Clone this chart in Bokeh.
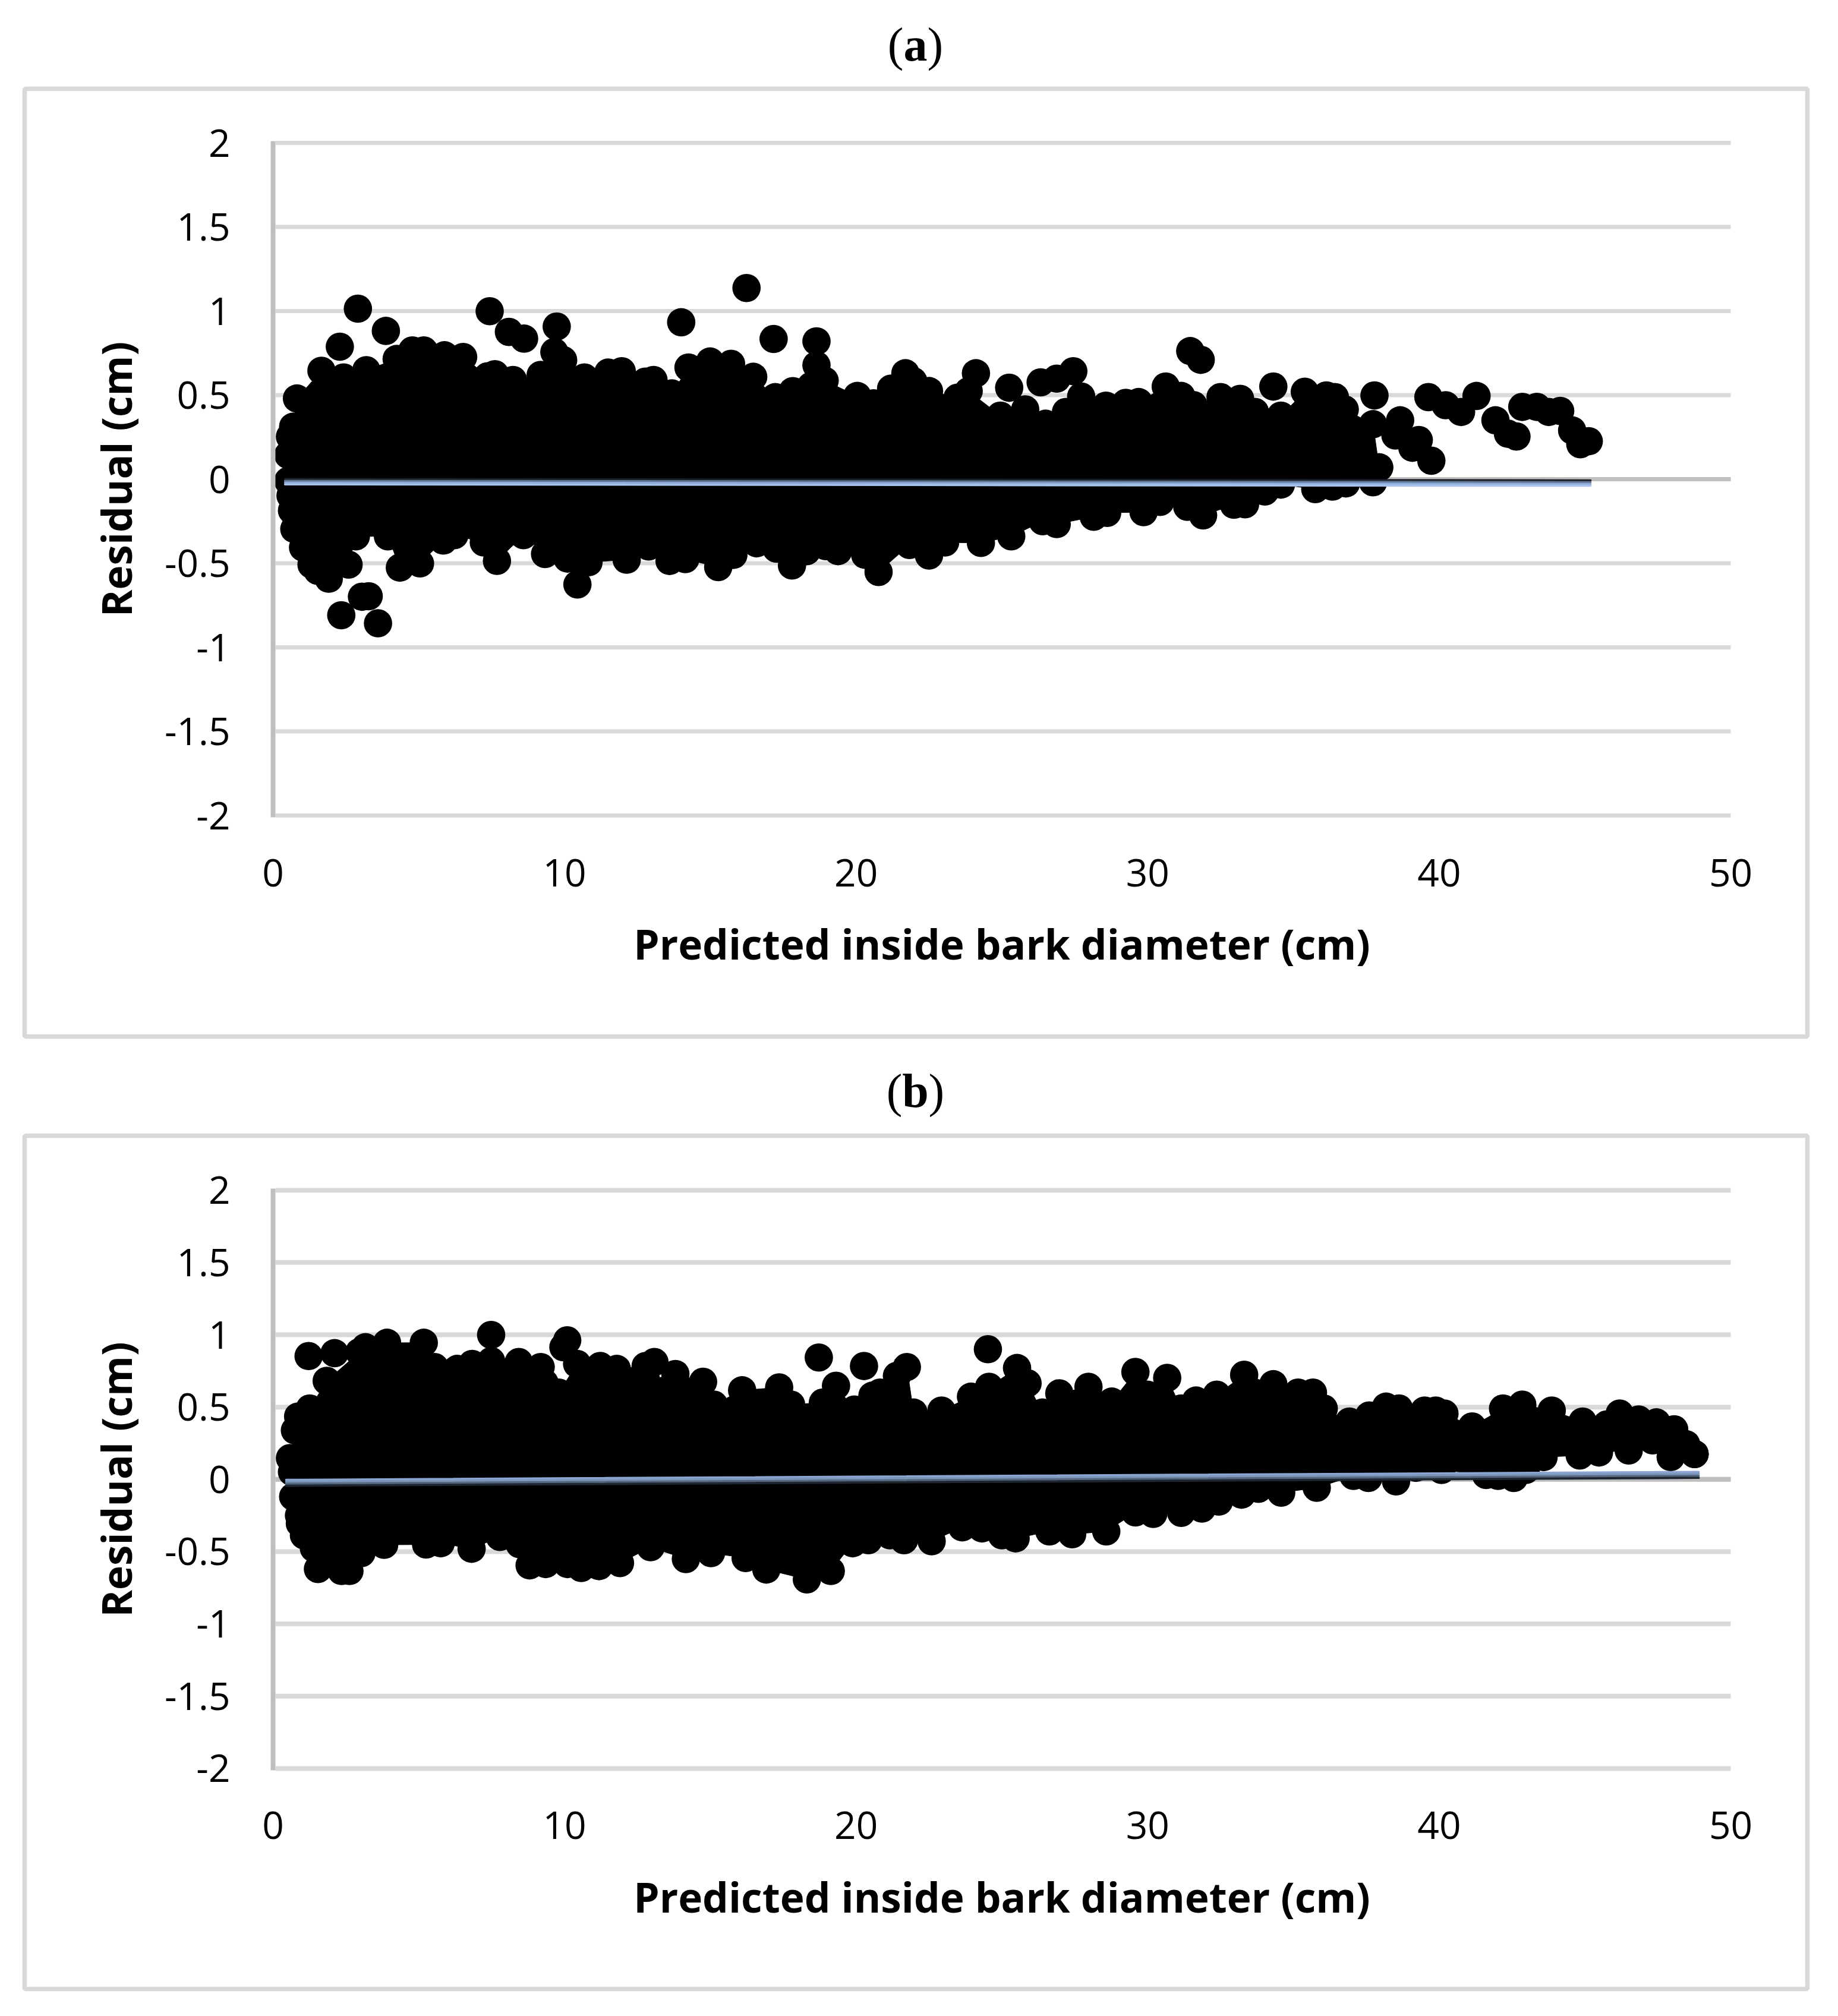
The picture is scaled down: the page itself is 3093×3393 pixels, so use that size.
from bokeh.plotting import figure
from bokeh.layouts import column
from bokeh.models import FixedTicker, LinearAxis, Range1d
from bokeh.core.properties import value
from bokeh.embed import file_html
from bokeh.resources import INLINE

# ---- shared axis content ----
x_ticks = [0, 10, 20, 30, 40, 50]
x_labels = ["0", "10", "20", "30", "40", "50"]
y_ticks = [-2, -1.5, -1, -0.5, 0, 0.5, 1, 1.5, 2]
y_labels = ["-2", "-1.5", "-1", "-0.5", "0", "0.5", "1", "1.5", "2"]
x_title = "Predicted inside bark diameter (cm)"
y_title = "Residual (cm)"

# ---- panel (a): points on the upper and lower edge of the saturated cloud, and isolated points ----
a_hi_x = [0.52, 0.58, 0.69, 0.82, 1.66, 2.42, 3.2, 4.24, 4.78, 5.17, 5.88, 6.52, 7.36, 7.61, 8.23, 9.18, 9.65, 9.95,
          10.68, 11.5, 11.96, 12.77, 13.05, 13.68, 14.25, 14.99, 15.71, 16.47, 17.23, 17.83, 18.45, 18.64, 18.92,
          20.04, 20.6, 21.2, 21.69, 21.96, 22.5, 23.48, 23.86, 24.95, 25.8, 26.5, 27.2, 27.72, 28.57, 29.25, 29.69,
          30.62, 31.15, 31.57, 32.5, 33.17, 33.68, 34.57, 35.39, 36.13, 36.42, 36.76, 37.73, 37.94]
a_hi_y = [0.144, 0.253, 0.312, 0.48, 0.645, 0.605, 0.648, 0.715, 0.766, 0.766, 0.737, 0.727, 0.612, 0.624, 0.59, 0.62,
          0.756, 0.708, 0.605, 0.634, 0.642, 0.58, 0.59, 0.51, 0.664, 0.70, 0.686, 0.609, 0.488, 0.524, 0.554, 0.678,
          0.586, 0.495, 0.451, 0.539, 0.63, 0.583, 0.524, 0.485, 0.524, 0.378, 0.415, 0.33, 0.40, 0.492, 0.437, 0.454,
          0.459, 0.551, 0.495, 0.441, 0.488, 0.478, 0.40, 0.378, 0.52, 0.498, 0.488, 0.415, 0.327, 0.07]
a_lo_x = [0.52, 0.6, 0.65, 0.73, 1.03, 1.32, 1.53, 1.91, 2.59, 2.84, 3.94, 4.35, 5.04, 5.84, 6.22, 7.23, 7.68, 8.59,
          9.33, 10.1, 10.44, 10.82, 12.13, 12.88, 13.6, 14.14, 15.27, 15.79, 16.59, 17.27, 17.8, 18.3, 18.96, 19.38,
          20.31, 20.77, 21.83, 22.5, 23.05, 24.28, 25.32, 26.4, 26.88, 28.15, 28.61, 29.86, 30.43, 31.36, 31.9,
          32.96, 33.34, 34.02, 34.57, 35.75, 36.34, 36.8, 37.73, 37.94]
a_lo_y = [-0.01, -0.098, -0.186, -0.296, -0.406, -0.508, -0.545, -0.592, -0.508, -0.34, -0.34, -0.526, -0.501, -0.365,
          -0.333, -0.376, -0.486, -0.333, -0.445, -0.472, -0.626, -0.494, -0.479, -0.4, -0.486, -0.475, -0.523, -0.45,
          -0.381, -0.413, -0.513, -0.428, -0.398, -0.428, -0.45, -0.552, -0.391, -0.454, -0.376, -0.379, -0.34, -0.25,
          -0.267, -0.223, -0.2, -0.196, -0.135, -0.164, -0.215, -0.152, -0.149, -0.073, -0.032, -0.059, -0.044, -0.025,
          -0.018, 0.07]
a_pt_x = [2.91, 3.87, 2.29, 7.43, 8.09, 8.61, 9.73, 16.24, 14.0, 17.17, 18.64, 31.46, 31.82, 2.34, 3.05, 3.28, 3.6,
          24.11, 25.25, 26.33, 26.88, 27.45, 34.31, 37.78, 38.5, 38.66, 39.3, 39.08, 39.73, 39.63, 40.22, 40.75,
          41.28, 41.93, 42.36, 42.65, 42.85, 43.35, 43.76, 44.15, 44.56, 44.84, 45.13]
a_pt_y = [1.014, 0.882, 0.788, 0.999, 0.876, 0.836, 0.908, 1.137, 0.933, 0.834, 0.82, 0.762, 0.71, -0.809, -0.699,
          -0.696, -0.857, 0.63, 0.544, 0.576, 0.598, 0.642, 0.551, 0.498, 0.26, 0.35, 0.233, 0.187, 0.11, 0.488, 0.44,
          0.40, 0.495, 0.35, 0.27, 0.254, 0.43, 0.43, 0.40, 0.406, 0.29, 0.208, 0.226]
a_fit_x = [0.41, 45.19]
a_fit_y = [-0.015, -0.023]

# ---- panel (b) ----
b_hi_x = [0.58, 0.75, 0.86, 1.26, 1.84, 2.96, 3.17, 3.91, 5.17, 5.54, 6.32, 6.83, 7.48, 8.43, 9.18, 9.31, 9.8, 10.43,
          11.22, 11.79, 12.78, 13.08, 13.42, 13.8, 14.75, 15.12, 16.09, 17.36, 17.77, 18.86, 19.31, 19.94, 20.56,
          20.82, 21.4, 21.74, 21.97, 22.93, 23.94, 24.56, 25.52, 25.88, 26.39, 26.97, 27.97, 28.77, 29.58, 29.99,
          30.67, 31.15, 31.66, 32.37, 33.31, 34.31, 35.16, 35.67, 36.04, 36.92, 37.6, 38.18, 38.62, 39.5, 39.88,
          40.18, 41.13, 42.19, 42.85, 43.86, 44.92, 45.75, 46.19, 46.84, 47.45, 48.06, 48.47, 48.76]
b_hi_y = [0.147, 0.339, 0.435, 0.49, 0.681, 0.88, 0.914, 0.945, 0.945, 0.777, 0.764, 0.798, 0.818, 0.812, 0.777, 0.668,
          0.6, 0.798, 0.784, 0.764, 0.784, 0.812, 0.613, 0.729, 0.675, 0.517, 0.616, 0.636, 0.517, 0.531, 0.647, 0.483,
          0.579, 0.6, 0.716, 0.777, 0.462, 0.476, 0.572, 0.64, 0.77, 0.665, 0.462, 0.595, 0.64, 0.538, 0.743, 0.586,
          0.702, 0.49, 0.545, 0.586, 0.723, 0.658, 0.6, 0.6, 0.49, 0.40, 0.442, 0.503, 0.49, 0.476, 0.476, 0.455, 0.366,
          0.49, 0.517, 0.476, 0.40, 0.38, 0.455, 0.414, 0.394, 0.346, 0.243, 0.175]
b_lo_x = [0.65, 0.69, 0.89, 0.92, 1.06, 1.4, 1.54, 2.35, 2.62, 3.03, 3.81, 5.25, 5.75, 6.81, 7.78, 8.46, 8.8, 9.35,
          10.1, 10.57, 11.18, 11.9, 12.95, 14.16, 15.02, 16.21, 16.92, 18.31, 19.13, 19.88, 20.42, 21.16, 21.64,
          22.59, 23.64, 24.32, 25.0, 25.47, 26.63, 27.41, 28.58, 29.58, 30.19, 31.15, 31.86, 32.44, 33.22, 33.8,
          34.58, 35.8, 37.06, 37.57, 38.52, 39.2, 40.08, 41.61, 42.02, 42.56, 42.97, 43.58, 44.82, 45.48, 46.5,
          47.32, 47.94, 48.76]
b_lo_y = [0.051, -0.12, -0.25, -0.305, -0.387, -0.476, -0.62, -0.634, -0.634, -0.51, -0.453, -0.451, -0.442, -0.48,
          -0.398, -0.449, -0.595, -0.586, -0.586, -0.613, -0.6, -0.579, -0.469, -0.551, -0.51, -0.544, -0.624, -0.692,
          -0.634, -0.442, -0.421, -0.387, -0.421, -0.428, -0.332, -0.339, -0.387, -0.408, -0.36, -0.38, -0.36, -0.229,
          -0.239, -0.232, -0.202, -0.154, -0.106, -0.065, -0.092, -0.058, 0.024, 0.01, -0.014, 0.08, 0.065, 0.03, 0.024,
          0.01, 0.065, 0.154, 0.165, 0.186, 0.2, 0.27, 0.154, 0.175]
b_pt_x = [1.22, 2.11, 7.48, 9.96, 10.09, 18.72, 20.27, 24.52]
b_pt_y = [0.853, 0.873, 0.999, 0.914, 0.962, 0.843, 0.784, 0.9]
b_fit_x = [0.45, 48.9]
b_fit_y = [-0.024, 0.031]

GRID = "#d9d9d9"
AXIS = "#bfbfbf"
TICK_FONT = "Open Sans"
X_UNIT = 49.06   # page px per cm
X0 = 459         # page x of the y axis
W = 3090


def panel(fig_top, fig_h, y2_px, y_unit, box_top, box_bottom, letter, half, title_px, grid_w,
          hi_x, hi_y, lo_x, lo_y, pt_x, pt_y, fit_x, fit_y, fit_bands, fit_w):
    to_x = lambda px: (px - X0) / X_UNIT
    to_y = lambda px: 2 - (px - y2_px) / y_unit

    # The frame fills the figure: the surround and titles are drawn in the same coordinates
    p = figure(width=W, height=fig_h, x_range=Range1d(to_x(0), to_x(W)),
               y_range=Range1d(to_y(fig_top + fig_h), to_y(fig_top)),
               x_axis_location=None, y_axis_location=None,
               min_border_left=0, min_border_right=0, min_border_top=0, min_border_bottom=0,
               output_backend="svg", toolbar_location=None)
    p.outline_line_color = None
    p.background_fill_color = "white"
    p.border_fill_color = "white"
    p.grid.visible = False

    xax = LinearAxis(fixed_location=-2)
    yax = LinearAxis(fixed_location=0)
    p.add_layout(xax, "below")
    p.add_layout(yax, "left")
    xax.ticker = FixedTicker(ticks=x_ticks)
    xax.major_label_overrides = dict(zip(x_ticks, x_labels))
    yax.ticker = FixedTicker(ticks=y_ticks)
    yax.major_label_overrides = dict(zip(y_ticks, y_labels))
    for ax in (xax, yax):
        ax.major_tick_line_color = None
        ax.minor_tick_line_color = None
        ax.major_label_text_font = TICK_FONT
        ax.major_label_text_font_size = "64px"
        ax.major_label_text_color = "black"
        ax.axis_label_text_font = TICK_FONT
        ax.axis_label_text_font_size = "69.3px"
        ax.axis_label_text_font_style = "bold"
        ax.axis_label_text_color = "black"
    xax.axis_line_color = None
    xax.bounds = (0, 50)
    yax.bounds = (-2.012, 2.012)
    yax.axis_line_color = AXIS
    yax.axis_line_width = 8
    xax.major_label_standoff = 67
    yax.major_label_standoff = 66
    xax.axis_label = x_title
    yax.axis_label = y_title
    xax.axis_label_standoff = 46
    yax.axis_label_standoff = 32

    # Surround of the chart
    p.quad(left=[to_x(41)], right=[to_x(3041)], top=[to_y(box_top)], bottom=[to_y(box_bottom)],
           fill_color=None, line_color=GRID, line_width=7.5)

    # Horizontal gridlines, the zero line on top of them
    inner = to_x(X0 + 4)
    p.segment(x0=[inner] * len(y_ticks), x1=[x_ticks[-1]] * len(y_ticks), y0=y_ticks, y1=y_ticks,
              line_color=GRID, line_width=grid_w)
    p.segment(x0=[inner], x1=[x_ticks[-1]], y0=[0], y1=[0], line_color=AXIS, line_width=grid_w)

    # Saturated body of the cloud, bounded by the edge points
    p.patch(hi_x + lo_x[::-1], hi_y + lo_y[::-1], fill_color="black", line_color="black", line_width=1)
    for xs, ys in ((hi_x, hi_y), (lo_x, lo_y), (pt_x, pt_y)):
        p.scatter(xs, ys, size=47.7, marker="circle", fill_color="black", line_color=None)

    n = len(fit_bands)
    for i, col in enumerate(fit_bands):
        off = (n / 2 - 0.5 - i) * fit_w / n / y_unit
        p.line(fit_x, [v + off for v in fit_y], line_color=col, line_width=fit_w / n + 0.6, line_cap="round")

    for txt, dx, style, align in (("(", -half, "normal", "right"), (letter, 0, "bold", "center"), (")", half, "normal", "left")):
        p.text(x=[to_x(1540 + dx)], y=[to_y(title_px)], text=[txt],
               text_font=value("Liberation Serif"), text_font_size=value("80px"), text_font_style=style,
               text_color="black", text_align=align, text_baseline="middle")
    return p


p1 = panel(0, 1770, 240, 283.0, 149, 1744, "a", 20, 74, 7,
           a_hi_x, a_hi_y, a_lo_x, a_lo_y, a_pt_x, a_pt_y, a_fit_x, a_fit_y,
           ["#1a2028", "#5f7593", "#8fadd8", "#a6c3ee"], 12)
p2 = panel(1770, 1620, 2002.7, 243.3, 1911, 3347, "b", 22, 1835, 8,
           b_hi_x, b_hi_y, b_lo_x, b_lo_y, b_pt_x, b_pt_y, b_fit_x, b_fit_y,
           ["#8aa6d0", "#7d97bc", "#566880", "#1e2632"], 13)

layout = column(p1, p2, spacing=0)
open("out.html", "w").write(file_html(layout, INLINE))
